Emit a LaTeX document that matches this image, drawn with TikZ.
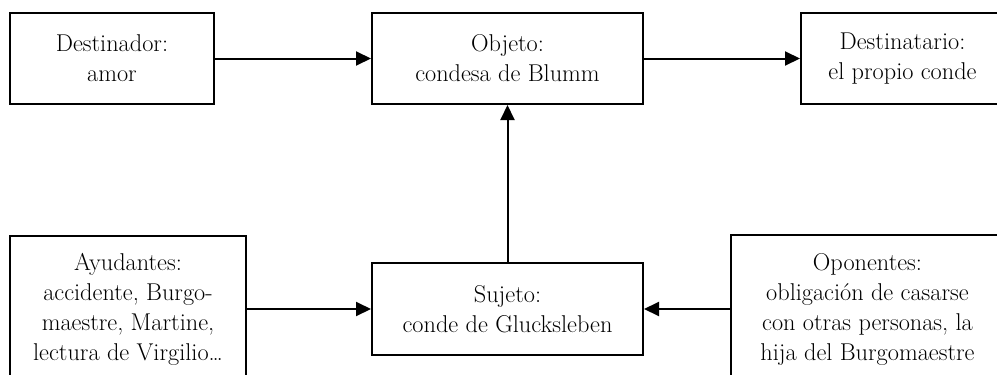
\documentclass[tikz,border=0pt]{standalone}
\usetikzlibrary{arrows.meta}
\begin{document}
\begin{tikzpicture}[x=1pt,y=-1pt,
  box/.style={draw,line width=2pt,rectangle,inner sep=0pt,align=center,
    font=\fontsize{24.3}{30}\selectfont},
  conn/.style={line width=2pt,-{Triangle[length=15pt,width=14pt]}}]
\clip (0,0) rectangle (997,375);
\useasboundingbox (0,0) rectangle (997,375);
\node[box,minimum width=204pt,minimum height=91pt] (dst) at (112,58.5) {Destinador:\\amor};
\node[box,minimum width=271pt,minimum height=91pt] (obj) at (507.5,58.5) {Objeto:\\condesa de Blumm};
\node[box,minimum width=203pt,minimum height=91pt] (dtr) at (902.5,58.5) {Destinatario:\\el propio conde};
\node[box,minimum width=236pt,minimum height=146pt] (ayu) at (128,309) {Ayudantes:\\accidente, Burgo-\\maestre, Martine,\\lectura de Virgilio\dots};
\node[box,minimum width=271pt,minimum height=92pt] (suj) at (507.5,309) {Sujeto:\\conde de Glucksleben};
\node[box,minimum width=273pt,minimum height=148pt] (opo) at (867.5,309) {Oponentes:\\obligación de casarse\\con otras personas, la\\hija del Burgomaestre};
\draw[conn] (dst) -- (obj);
\draw[conn] (obj) -- (dtr);
\draw[conn] (suj) -- (obj);
\draw[conn] (ayu) -- (suj);
\draw[conn] (opo) -- (suj);
\end{tikzpicture}
\end{document}
